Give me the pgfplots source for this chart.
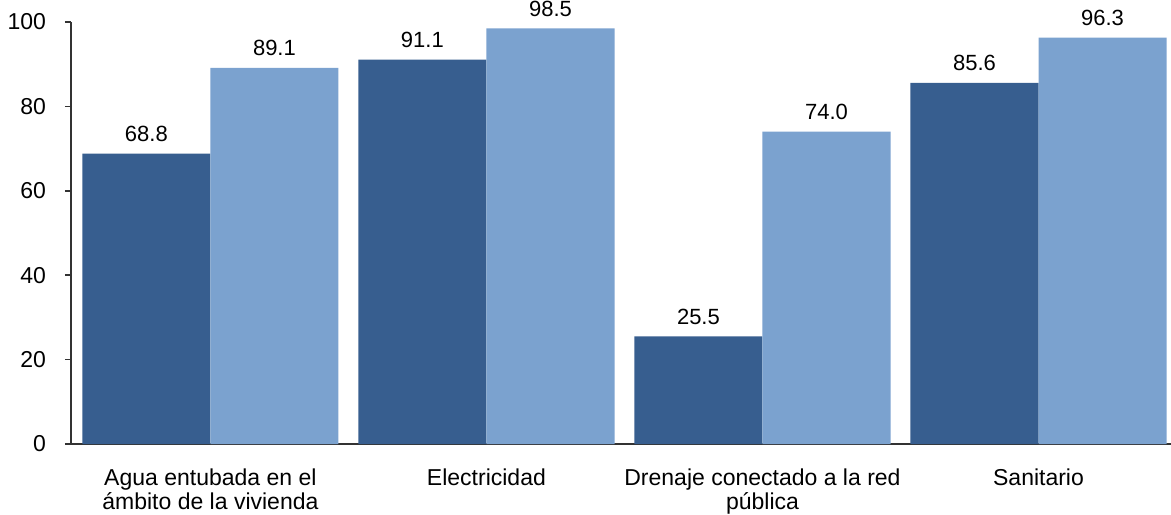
\documentclass[border=0pt]{standalone}
\usepackage{pgfplots}
\pgfplotsset{compat=1.18}
\usetikzlibrary{calc}
\usepackage{fontspec}
\setmainfont{Liberation Sans}

\definecolor{darkblue}{HTML}{375E8F}
\definecolor{lightblue}{HTML}{7BA2CF}
\definecolor{axisgray}{HTML}{333333}

\begin{document}
\begin{tikzpicture}
\begin{axis}[
    ybar=0pt,
    bar width=0.464,
    scale only axis,
    width=550pt,
    height=211pt,
    xmin=-0.505, xmax=3.48,
    ymin=0, ymax=100,
    ytick={0,20,40,60,80,100},
    xtick={0,1,2,3},
    xticklabels={Agua entubada en el\\ámbito de la vivienda, Electricidad, Drenaje conectado a la red\\pública, Sanitario},
    xticklabel style={align=center, yshift=-6pt, font=\fontsize{11.5}{10.5}\selectfont},
    yticklabel style={font=\fontsize{11.5}{13}\selectfont, xshift=-6pt},
    major x tick style={draw=none},
    tick align=outside,
    major tick length=3pt,
    ytick style={axisgray, line width=0.8pt},
    axis lines*=left,
    axis line style={axisgray, line width=0.8pt},
    /pgf/number format/assume math mode=true,
    nodes near coords,
    nodes near coords style={font=\fontsize{11}{13}\selectfont, yshift=2.5pt,
        /pgf/number format/fixed, /pgf/number format/fixed zerofill,
        /pgf/number format/precision=1},
    clip=false,
]

% Serie oscura
\addplot[fill=darkblue, draw=none] coordinates {(0,68.8) (1,91.1) (2,25.5) (3,85.6)};

% Serie clara
\addplot[fill=lightblue, draw=none] coordinates {(0,89.1) (1,98.5) (2,74.0) (3,96.3)};

\end{axis}
% page frame as in the reference (top label slightly cut)
\pgfresetboundingbox
\useasboundingbox ($(current axis.south west)+(-35.5pt,-35pt)$) rectangle ($(current axis.north east)+(0pt,11pt)$);
\end{tikzpicture}
\end{document}
